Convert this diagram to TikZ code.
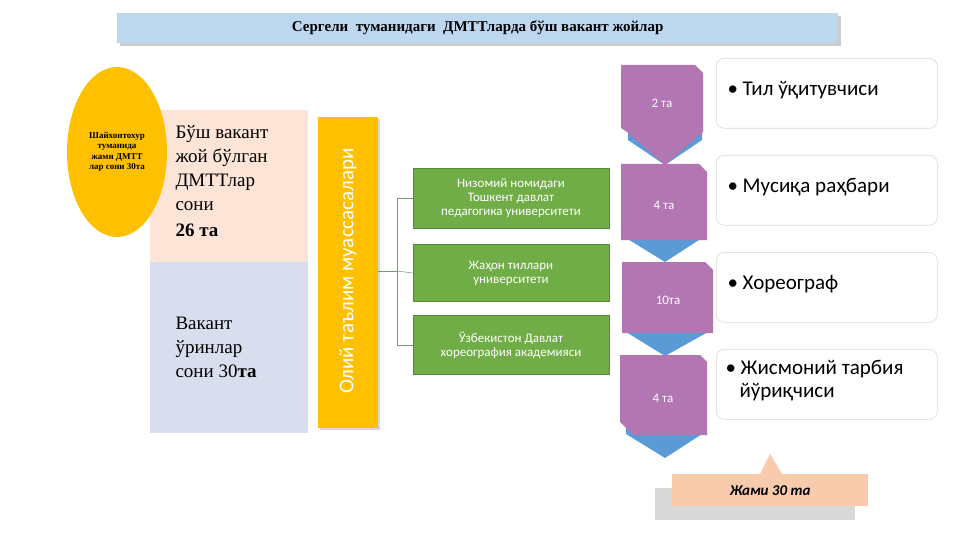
\documentclass[tikz,border=0pt]{standalone}
\usepackage{fontspec}
\setmainfont{Liberation Serif}
\newfontfamily\calfont{Carlito}
\usetikzlibrary{shapes.geometric,shadows}
\definecolor{ttl}{HTML}{BDD7EE}
\definecolor{gold}{HTML}{FFC000}
\definecolor{peach}{HTML}{FCE4D6}
\definecolor{lav}{HTML}{D9DEEE}
\definecolor{grn}{HTML}{70AD47}
\definecolor{purp}{HTML}{B276B2}
\definecolor{blu}{HTML}{5B9BD5}
\definecolor{sal}{HTML}{F8CBAD}
\begin{document}
\begin{tikzpicture}[x=1pt,y=-1pt,
  gbox/.style={fill=grn,draw=grn!80!black,line width=0.4pt,text=white,font=\calfont\fontsize{13}{14}\selectfont,align=center,inner sep=2pt},
  wbox/.style={draw=black!15,fill=white,rounded corners=8pt,line width=0.6pt},
  wtxt/.style={font=\calfont\fontsize{21}{23}\selectfont,anchor=north west,align=left},
  ptxt/.style={text=white,font=\calfont\fontsize{13}{14}\selectfont},
  conn/.style={draw=grn!60!black!70,line width=0.5pt}]
\useasboundingbox (0,0) rectangle (961,540);
\fill[white] (0,0) rectangle (961,540);
% title
\node[fill=ttl,minimum width=721pt,minimum height=30pt,anchor=north west,drop shadow={shadow xshift=3pt,shadow yshift=-3pt,opacity=.4},font=\bfseries\fontsize{15}{17}\selectfont] (title) at (117,13) {Сергели\ \ туманидаги\ \ ДМТТларда бўш вакант жойлар};
% left blocks
\node[fill=peach,minimum width=158pt,minimum height=152pt,anchor=north west,inner sep=0] (pk) at (150,110) {};
\node[fill=lav,minimum width=158pt,minimum height=171pt,anchor=north west,inner sep=0] (lv) at (150,262) {};
\node[anchor=north west,align=left,font=\fontsize{19}{24}\selectfont] (t1) at (172,122) {Бўш вакант\\жой бўлган\\ДМТТлар\\сони\\[2pt]\textbf{26 та}};
\node[anchor=north west,align=left,font=\fontsize{19}{24}\selectfont] (t2) at (172,314) {Вакант\\ўринлар\\сони 30\textbf{та}};
\node[ellipse,fill=gold,minimum width=100pt,minimum height=170pt,inner sep=0,align=center,font=\bfseries\fontsize{9}{10.5}\selectfont] (ell) at (117,152) {Шайхонтохур\\туманида\\жами ДМТТ\\лар сони 30та};
% vertical bar
\node[fill=gold,minimum width=60pt,minimum height=311pt,anchor=north west,inner sep=0,drop shadow={shadow xshift=2pt,shadow yshift=-2pt,opacity=.3}] (bar) at (318,117) {};
\node[rotate=90,text=white,font=\calfont\fontsize{21}{23}\selectfont] (bt) at (348,271) {Олий таълим муассасалари};
% green boxes
\node[gbox,minimum width=196pt,minimum height=60pt] (g1) at (511,198) {Низомий номидаги\\Тошкент давлат\\педагогика университети};
\node[gbox,minimum width=196pt,minimum height=57pt] (g2) at (511,273) {Жаҳон тиллари\\университети};
\node[gbox,minimum width=196pt,minimum height=59pt] (g3) at (511,345) {Ўзбекистон Давлат\\хореография академияси};
\coordinate (j) at (397,271);
\draw[conn] (bar.east |- j) -- (j);
\draw[conn] (j |- g1) -- (j |- g3);
\draw[conn] (j |- g1) -- (g1.west);
\draw[conn] (j) -- (g2.west);
\draw[conn] (j |- g3) -- (g3.west);
% blue chevrons
\fill[blu] (628,125) -- (702,125) -- (702,140) -- (665,165) -- (628,140) -- cycle;
\fill[blu] (626,225) -- (702,225) -- (702,238) -- (665,262) -- (626,238) -- cycle;
\fill[blu] (626,318) -- (708,318) -- (708,332) -- (665,356) -- (626,332) -- cycle;
\fill[blu] (626,420) -- (702,420) -- (702,434) -- (665,458) -- (626,434) -- cycle;
% purple shapes
\fill[purp] (621,65) -- (695,65) -- (703,73) -- (703,132) -- (665,165) -- (627,132) -- (621,128) -- cycle;
\node[ptxt] (p1) at (662,103) {2 та};
\fill[purp] (621,164) -- (699,164) -- (707,172) -- (707,240) -- (621,240) -- cycle;
\node[ptxt] (p2) at (664,205) {4 та};
\fill[purp] (622,262) -- (705,262) -- (713,270) -- (713,333) -- (622,333) -- cycle;
\node[ptxt] (p3) at (668,300) {10та};
\fill[purp] (620,355) -- (700,355) -- (707,362) -- (707,435) -- (633,435) -- (620,422) -- cycle;
\node[ptxt] (p4) at (663,398) {4 та};
% white boxes
\node[wbox,minimum width=221pt,minimum height=70pt,anchor=north west] (w1) at (716,58) {};
\node[wbox,minimum width=221pt,minimum height=70pt,anchor=north west] (w2) at (716,155) {};
\node[wbox,minimum width=221pt,minimum height=70pt,anchor=north west] (w3) at (716,252) {};
\node[wbox,minimum width=221pt,minimum height=70pt,anchor=north west] (w4) at (716,349) {};
\node[wtxt] at (724,78) {\textbullet\ Тил ўқитувчиси};
\node[wtxt] at (724,175) {\textbullet\ Мусиқа раҳбари};
\node[wtxt] at (724,272) {\textbullet\ Хореограф};
\node[wtxt] at (722,357) {\textbullet\ Жисмоний тарбия\\\hspace{14pt}йўриқчиси};
% total
\fill[black!15] (655,488) rectangle (855,520);
\fill[sal] (760,474) -- (770,454) -- (782,474) -- cycle;
\node[fill=sal,minimum width=196pt,minimum height=32pt,anchor=north west,inner sep=0,font=\calfont\bfseries\itshape\fontsize{15}{17}\selectfont] (tot) at (672,474) {Жами 30 та};
\end{tikzpicture}
\end{document}
